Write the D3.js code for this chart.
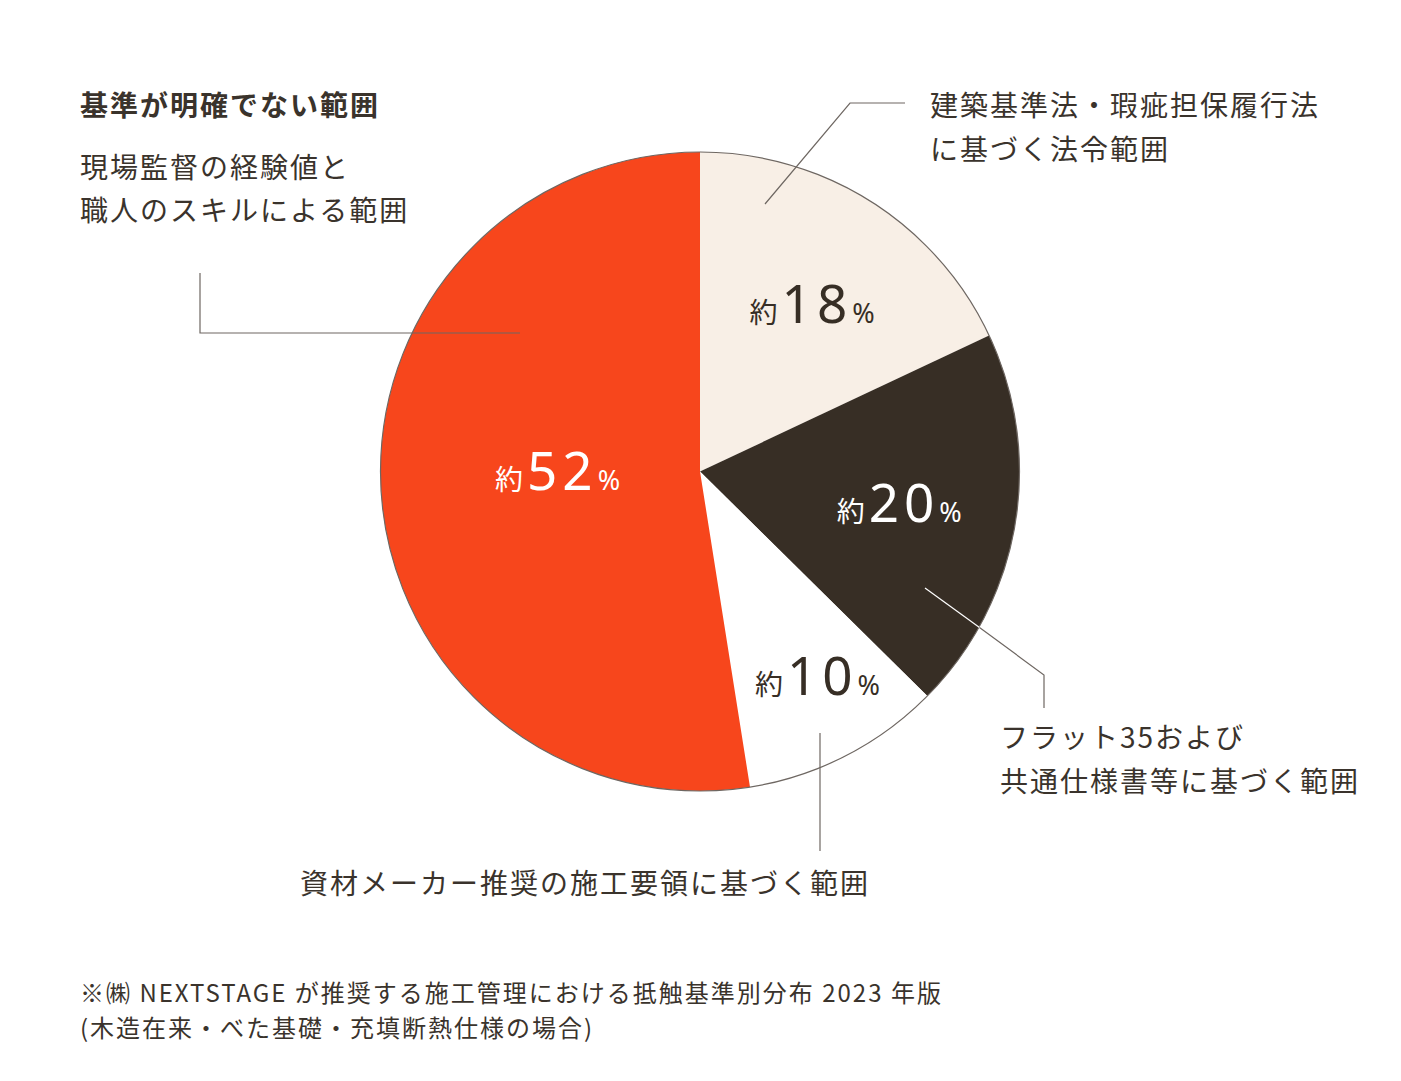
<!DOCTYPE html>
<html><head><meta charset="utf-8">
<script src="https://cdn.jsdelivr.net/npm/d3@7"></script>
<style>
html,body{margin:0;padding:0;background:#fff;}
svg{display:block;}
text{font-family:"Noto Sans CJK JP","Noto Sans",sans-serif;}
</style></head>
<body>
<svg id="chart" width="1401" height="1081"></svg>
<script>
// ---- data ----
const categories = ["法令範囲", "フラット35・共通仕様書", "資材メーカー施工要領", "基準が明確でない範囲"];
const values = [18, 19.4, 10.1, 52.5];
const valueLabels = ["18", "20", "10", "52"];
const sliceColors = ["#f8efe6", "#372e25", "#ffffff", "#f7461c"];
const labelColors = ["#372e25", "#ffffff", "#372e25", "#ffffff"];

// ---- layout ----
const W = 1401, H = 1081;
const cx = 700, cy = 471.5, R = 319.5;
const labelRadius = [200, 202, 238, 142.5];
const labelNudgeDeg = [1.7, -0.2, -2.4, 3.9];
const textColor = "#3a332c";
const lineColor = "#6e6762";

const svg = d3.select("#chart");
const g = svg.append("g").attr("transform", `translate(${cx},${cy})`);

const pie = d3.pie().sort(null).value(d => d);
const arcs = pie(values);
const arc = d3.arc().innerRadius(0).outerRadius(R);

g.selectAll("path.slice").data(arcs).join("path")
  .attr("class", "slice")
  .attr("d", arc)
  .attr("fill", (d, i) => sliceColors[i]);

// outer outline
g.append("circle").attr("r", R).attr("fill", "none")
  .attr("stroke", lineColor).attr("stroke-width", 1.2);

// value labels
arcs.forEach((d, i) => {
  const a = (d.startAngle + d.endAngle) / 2 + labelNudgeDeg[i] * Math.PI / 180;
  const r = labelRadius[i];
  const x = Math.sin(a) * r, y = -Math.cos(a) * r;
  const t = g.append("text")
    .attr("x", x).attr("y", y + 17)
    .attr("text-anchor", "middle")
    .attr("fill", labelColors[i]);
  t.append("tspan").attr("font-size", 28).text("約");
  t.append("tspan").attr("font-size", 53).attr("font-weight", 400)
    .attr("letter-spacing", 5).attr("dx", 4)
    .attr("font-family", "'Noto Sans', sans-serif").text(valueLabels[i]);
  t.append("tspan").attr("font-size", 27)
    .attr("font-family", "'Noto Sans', sans-serif").text("%");
});

// leader lines (annotation)
const leaders = [
  {pts: [[765, 204], [850, 103], [905, 103]], color: lineColor},
  {pts: [[520, 333], [200, 333], [200, 273]], color: lineColor},
  {pts: [[925, 588], [979.5, 627.5]], color: "#ffffff"},
  {pts: [[979.5, 627.5], [1044, 675], [1044, 708]], color: lineColor},
  {pts: [[820, 733], [820, 851]], color: lineColor}
];
const line = d3.line();
svg.selectAll("path.leader").data(leaders).join("path")
  .attr("class", "leader")
  .attr("d", d => line(d.pts))
  .attr("fill", "none")
  .attr("stroke", d => d.color)
  .attr("stroke-width", 1.2);

// annotation texts
const annotations = [
  {x: 80, y: 116, text: "基準が明確でない範囲", bold: true},
  {x: 80, y: 178, text: "現場監督の経験値と"},
  {x: 80, y: 221, text: "職人のスキルによる範囲"},
  {x: 930, y: 116, text: "建築基準法・瑕疵担保履行法"},
  {x: 930, y: 160, text: "に基づく法令範囲"},
  {x: 1000, y: 748, text: "フラット35および"},
  {x: 1000, y: 792, text: "共通仕様書等に基づく範囲"},
  {x: 300, y: 894, text: "資材メーカー推奨の施工要領に基づく範囲"}
];
svg.selectAll("text.ann").data(annotations).join("text")
  .attr("class", "ann")
  .attr("x", d => d.x).attr("y", d => d.y)
  .attr("font-size", 28)
  .attr("letter-spacing", 2)
  .attr("font-weight", d => d.bold ? 700 : 400)
  .attr("fill", textColor)
  .text(d => d.text);

const notes = [
  "※㈱ NEXTSTAGE が推奨する施工管理における抵触基準別分布 2023 年版",
  "(木造在来・べた基礎・充填断熱仕様の場合)"
];
svg.selectAll("text.note").data(notes).join("text")
  .attr("class", "note")
  .attr("x", 80).attr("y", (d, i) => 1002 + i * 35)
  .attr("font-size", 24)
  .attr("letter-spacing", 2)
  .attr("fill", textColor)
  .text(d => d);
</script>
</body></html>
